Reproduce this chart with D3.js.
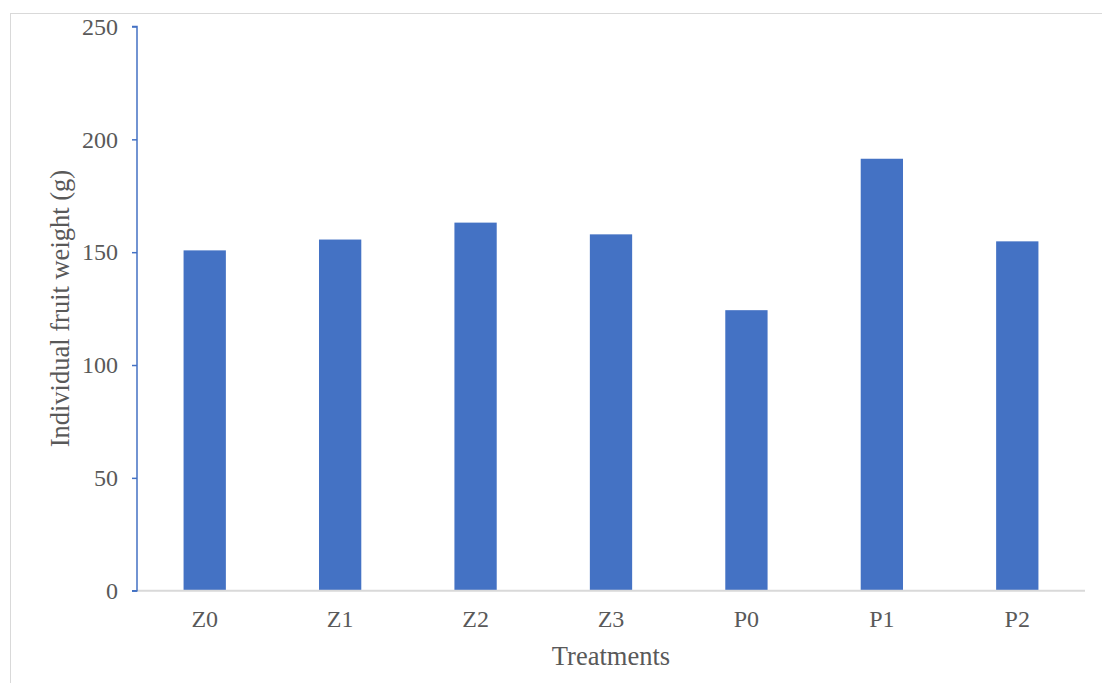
<!DOCTYPE html>
<html>
<head>
<meta charset="utf-8">
<script src="https://cdn.jsdelivr.net/npm/d3@7"></script>
<style>
  html, body { margin: 0; padding: 0; background: #fff; }
  svg { display: block; }
</style>
</head>
<body>
<svg id="chart" width="1102" height="683"></svg>
<script>
const categories = ["Z0", "Z1", "Z2", "Z3", "P0", "P1", "P2"];
const values = [150.8, 155.6, 163.1, 157.9, 124.3, 191.4, 154.8];
const yTicks = [0, 50, 100, 150, 200, 250];
const yTitle = "Individual fruit weight (g)";
const xTitle = "Treatments";

(function () {
const svg = d3.select("#chart");
const W = 1102, H = 683;
const mLeft = 137, mRight = 1085, mTop = 26.5, mBottom = 590.7;
const font = "'Liberation Serif', 'Times New Roman', serif";
const textColor = "#595959";

// outer border
svg.append("rect")
  .attr("x", 10.5).attr("y", 13.5)
  .attr("width", W + 10).attr("height", H + 10)
  .attr("fill", "#fff").attr("stroke", "#d9d9d9").attr("stroke-width", 1);

const x = d3.scaleBand().domain(categories).range([mLeft, mRight])
  .paddingInner(0.6877).paddingOuter(0.6877 / 2);
const y = d3.scaleLinear().domain([0, 250]).range([mBottom, mTop]);

// bars
svg.append("g").selectAll("rect").data(categories).join("rect")
  .attr("x", d => x(d))
  .attr("y", (d, i) => y(values[i]))
  .attr("width", x.bandwidth())
  .attr("height", (d, i) => y(0) - y(values[i]))
  .attr("fill", "#4472C4");

// x axis
const xAxis = svg.append("g").attr("transform", `translate(0,${mBottom})`)
  .call(d3.axisBottom(x).tickSize(0).tickPadding(0));
xAxis.select(".domain").attr("stroke", "#d9d9d9").attr("stroke-width", 2)
  .attr("d", `M${mLeft},0H${mRight}`);
xAxis.selectAll("text").attr("font-family", font).attr("font-size", 24)
  .attr("fill", textColor).attr("y", 36.5).attr("dy", 0);

// y axis
const yAxis = svg.append("g").attr("transform", `translate(${mLeft},0)`)
  .call(d3.axisLeft(y).tickValues(yTicks).tickSize(5).tickPadding(14));
yAxis.select(".domain").attr("stroke", "#4472C4").attr("stroke-width", 1.5)
  .attr("d", `M-5,${mTop}H0V${mBottom}H-5`);
yAxis.selectAll(".tick line").attr("stroke", "#4472C4").attr("stroke-width", 1.5);
yAxis.selectAll("text").attr("font-family", font).attr("font-size", 24)
  .attr("fill", textColor);

// axis titles
svg.append("text")
  .attr("transform", `translate(69,${(mTop + mBottom) / 2}) rotate(-90)`)
  .attr("text-anchor", "middle")
  .attr("font-family", font).attr("font-size", 26.5).attr("fill", textColor)
  .text(yTitle);

svg.append("text")
  .attr("x", (mLeft + mRight) / 2).attr("y", 665)
  .attr("text-anchor", "middle")
  .attr("font-family", font).attr("font-size", 26.5).attr("fill", textColor)
  .text(xTitle);
})();
</script>
</body>
</html>
